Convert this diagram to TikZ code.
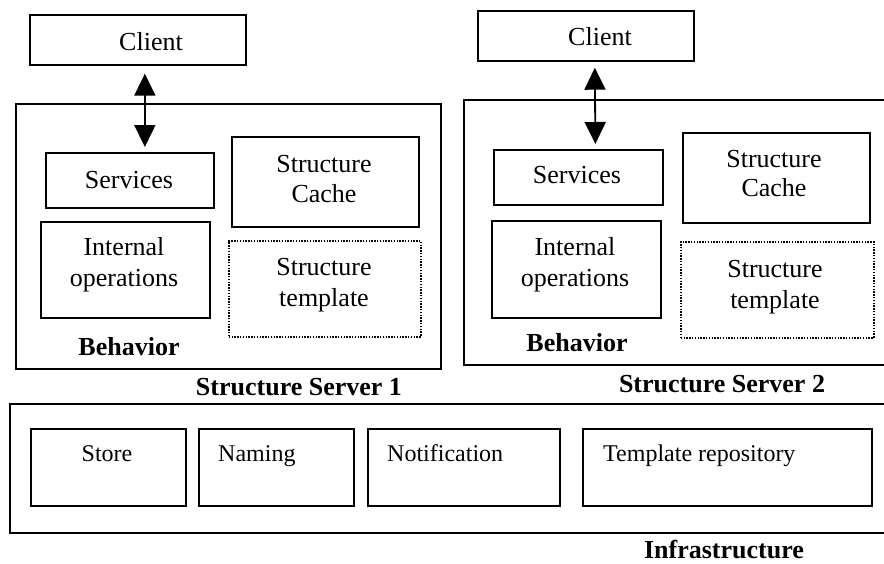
\documentclass[tikz,border=0pt]{standalone}
\usepackage{fontspec}
\setmainfont{Liberation Serif}
\usetikzlibrary{arrows.meta}
\begin{document}
\begin{tikzpicture}[x=1pt,y=-1pt,
  box/.style={draw, line width=1.7pt, inner sep=0pt, anchor=north west},
  tmplbox/.style={draw, line width=1.5pt, dash pattern=on 1.4pt off 1.4pt, inner sep=0pt, anchor=north west},
  frame/.style={draw, line width=1.5pt},
  txt/.style={anchor=base, inner sep=0pt, font=\fontsize{26}{30}\selectfont},
  btxt/.style={txt, font=\fontsize{26}{30}\selectfont\bfseries},
  stxt/.style={anchor=base, inner sep=0pt, font=\fontsize{24}{28}\selectfont},
  link/.style={line width=1.8pt, {Triangle[width=21pt,length=22pt]}-{Triangle[width=21pt,length=22pt]}}
]
\useasboundingbox (0,0) rectangle (884,563);

% ---------- Structure Server 1 ----------
\draw[frame] (16,104) rectangle (441,369);
\node[box, minimum width=216, minimum height=50] (client1) at (29,14) {};
\node[txt] (client1t) at (151,50) {Client};
\node[box, minimum width=168, minimum height=55] (serv1) at (45,152) {};
\node[txt] (serv1t) at (129,188) {Services};
\node[box, minimum width=187, minimum height=90] (cache1) at (231,136) {};
\node[txt] (cache1a) at (324,172) {Structure};
\node[txt] (cache1b) at (324,202) {Cache};
\node[box, minimum width=169, minimum height=96] (int1) at (40,221) {};
\node[txt] (int1a) at (124,255) {Internal};
\node[txt] (int1b) at (124,286) {operations};
\node[tmplbox, minimum width=192, minimum height=96] (tmpl1) at (228,240) {};
\node[txt] (tmpl1a) at (324,275) {Structure};
\node[txt] (tmpl1b) at (324,306) {template};
\node[btxt] (beh1) at (129,355) {Behavior};
\node[btxt] (srv1) at (299,395) {Structure Server 1};
\draw[link] ([xshift=7pt,yshift=-8pt]client1.south) -- ([xshift=15pt,yshift=5pt]serv1.north);

% ---------- Structure Server 2 (runs past the right edge) ----------
\draw[frame] (884,100) -- (464,100) -- (464,365) -- (884,365);
\node[box, minimum width=216, minimum height=50] (client2) at (477,10) {};
\node[txt] (client2t) at (600,45) {Client};
\node[box, minimum width=169, minimum height=55] (serv2) at (493,149) {};
\node[txt] (serv2t) at (577,183) {Services};
\node[box, minimum width=187, minimum height=90] (cache2) at (682,132) {};
\node[txt] (cache2a) at (774,167) {Structure};
\node[txt] (cache2b) at (774,196) {Cache};
\node[box, minimum width=169, minimum height=97] (int2) at (491,220) {};
\node[txt] (int2a) at (575,255) {Internal};
\node[txt] (int2b) at (575,286) {operations};
\node[tmplbox, minimum width=193, minimum height=96] (tmpl2) at (680,241) {};
\node[txt] (tmpl2a) at (775,277) {Structure};
\node[txt] (tmpl2b) at (775,308) {template};
\node[btxt] (beh2) at (577,351) {Behavior};
\node[btxt] (srv2) at (722,392) {Structure Server 2};
\draw[link] ([xshift=9pt,yshift=-6pt]client2.south) -- ([xshift=17pt,yshift=5pt]serv2.north);

% ---------- Infrastructure ----------
\draw[frame] (884,404) -- (10,404) -- (10,533) -- (884,533);
\node[box, minimum width=155, minimum height=77] (store) at (30,428) {};
\node[stxt] (storet) at (107,461) {Store};
\node[box, minimum width=155, minimum height=77] (naming) at (198,428) {};
\node[stxt, anchor=base west] (namingt) at (218,461) {Naming};
\node[box, minimum width=192, minimum height=77] (notif) at (367,428) {};
\node[stxt, anchor=base west] (notift) at (387,461) {Notification};
\node[box, minimum width=289, minimum height=77] (repo) at (582,428) {};
\node[stxt, anchor=base west] (repot) at (603,461) {Template repository};
\node[btxt] (infra) at (724,558) {Infrastructure};
\end{tikzpicture}
\end{document}
